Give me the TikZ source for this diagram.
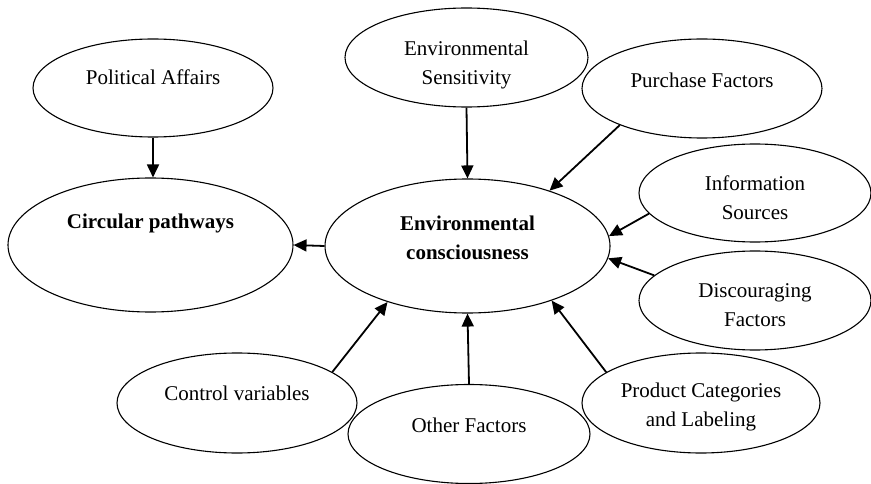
\documentclass[tikz,border=0pt]{standalone}
\usepackage{fontspec}
\setmainfont{Liberation Serif}
\usetikzlibrary{shapes.geometric,arrows.meta}

\begin{document}
\begin{tikzpicture}[x=1pt,y=-1pt,
  bubble/.style={draw,ellipse,line width=1.1pt,inner sep=0pt},
  lbl/.style={font=\fontsize{21}{29}\selectfont,align=center},
  boldlbl/.style={font=\fontsize{21}{29}\selectfont\bfseries,align=center},
  link/.style={line width=1.8pt,-{Triangle[length=13pt,width=12pt]}}]

\useasboundingbox (0,0) rectangle (871,484);

\node[bubble,minimum width=240pt,minimum height=98pt,
  label={[lbl,yshift=11pt]center:Political Affairs}] (pol) at (153,88) {};
\node[bubble,minimum width=285pt,minimum height=134pt,
  label={[boldlbl,yshift=22pt]center:Circular pathways}] (circ) at (150.5,245) {};
\node[bubble,minimum width=243pt,minimum height=99pt,
  label={[lbl,yshift=-7pt]center:{Environmental\\Sensitivity}}] (sens) at (466.5,57.5) {};
\node[bubble,minimum width=240pt,minimum height=99pt,
  label={[lbl,yshift=8pt]center:Purchase Factors}] (pur) at (702,88.5) {};
\node[bubble,minimum width=285pt,minimum height=134pt,
  label={[boldlbl,yshift=8.5pt]center:{Environmental\\consciousness}}] (ec) at (467.5,246) {};
\node[bubble,minimum width=232pt,minimum height=98pt,
  label={[lbl,yshift=-4.5pt]center:{Information\\Sources}}] (info) at (755,193) {};
\node[bubble,minimum width=232pt,minimum height=99pt,
  label={[lbl,yshift=-5pt]center:{Discouraging\\Factors}}] (disc) at (755,300.5) {};
\node[bubble,minimum width=240pt,minimum height=100pt,
  label={[lbl,yshift=10pt]center:Control variables}] (con) at (237,403) {};
\node[bubble,minimum width=242pt,minimum height=99pt,
  label={[lbl,yshift=9pt]center:Other Factors}] (oth) at (469,434) {};
\node[bubble,minimum width=238pt,minimum height=100pt,
  label={[lbl,yshift=-4pt]center:{Product Categories\\and Labeling}}] (prod) at (701,403) {};

\draw[link] (pol.south) -- (pol.south |- circ.north);
\draw[link] (sens.south) -- (ec.north);
\draw[link] (pur.204) -- (ec.34);
\draw[link] (info.191) -- (ec.4);
\draw[link] (disc.166) -- (ec.355);
\draw[link] (ec.west) -- (circ.east);
\draw[link] (con.18) -- (ec.215);
\draw[link] (oth.north) -- (ec.south);
\draw[link] (prod.162) -- (ec.327);

\end{tikzpicture}
\end{document}
